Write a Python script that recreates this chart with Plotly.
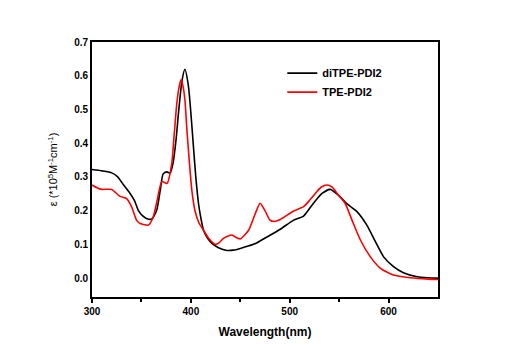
import plotly.graph_objects as go

wl_ditpe = [300, 310, 320, 326, 332, 338.5, 343, 347, 351, 355, 360.5, 365.5, 369, 372, 375.7, 379, 382, 385, 387.5, 391, 394, 397.6, 400, 402.6, 405, 407.7, 410, 412.8, 417, 421.3, 428, 436.5, 443, 450, 458, 467, 477, 490.5, 504, 514, 524, 532.7, 541, 549.5, 558, 568, 578, 586.7, 595, 605, 615, 629, 640, 650]
ab_ditpe = [0.322, 0.318, 0.312, 0.300, 0.276, 0.251, 0.230, 0.200, 0.185, 0.177, 0.175, 0.202, 0.260, 0.309, 0.315, 0.311, 0.341, 0.410, 0.490, 0.585, 0.619, 0.568, 0.490, 0.390, 0.300, 0.222, 0.180, 0.142, 0.118, 0.103, 0.090, 0.082, 0.083, 0.088, 0.095, 0.105, 0.122, 0.145, 0.172, 0.184, 0.222, 0.251, 0.263, 0.245, 0.220, 0.197, 0.157, 0.108, 0.063, 0.034, 0.016, 0.004, 0.001, 0.0]

wl_tpe = [300, 305, 310, 320, 328, 335, 340, 345, 348, 352, 357, 362, 366, 370.6, 376, 380.7, 383, 385.8, 388, 390, 392, 394, 396, 398.6, 401, 404, 408, 412.8, 418, 424.6, 429, 433, 441.5, 446, 450, 458.4, 465, 470, 475, 480, 484, 490.5, 504, 514, 520, 527.6, 532, 537.8, 543, 548, 556, 563, 571.5, 581.6, 591.8, 605, 622, 640, 650]
ab_tpe = [0.276, 0.268, 0.263, 0.263, 0.243, 0.236, 0.212, 0.172, 0.163, 0.159, 0.157, 0.182, 0.232, 0.286, 0.281, 0.340, 0.420, 0.518, 0.565, 0.588, 0.570, 0.528, 0.440, 0.340, 0.260, 0.202, 0.165, 0.142, 0.118, 0.100, 0.106, 0.118, 0.128, 0.120, 0.116, 0.142, 0.190, 0.222, 0.200, 0.172, 0.168, 0.174, 0.199, 0.212, 0.230, 0.257, 0.270, 0.276, 0.270, 0.251, 0.222, 0.172, 0.113, 0.063, 0.029, 0.009, 0.001, -0.003, -0.004]

x_ticks = [300, 400, 500, 600]
y_ticks = [0.0, 0.1, 0.2, 0.3, 0.4, 0.5, 0.6, 0.7]

fig = go.Figure()
fig.add_trace(go.Scatter(x=wl_ditpe, y=ab_ditpe, mode="lines", name="diTPE-PDI2",
                         line=dict(color="black", width=1.6, shape="spline", smoothing=0.6)))
fig.add_trace(go.Scatter(x=wl_tpe, y=ab_tpe, mode="lines", name="TPE-PDI2",
                         line=dict(color="#ff0000", width=1.6, shape="spline", smoothing=0.6)))

font_family = "Liberation Sans, Arial, sans-serif"
# page body has an 8px default margin, so margins are reduced accordingly
fig.update_layout(
    width=511, height=359,
    margin=dict(l=84, r=81, t=34, b=70, autoexpand=False),
    paper_bgcolor="white", plot_bgcolor="white",
    font=dict(family=font_family, color="black"),
    showlegend=True,
    legend=dict(x=0.55, y=0.935, xanchor="left", yanchor="top",
                bgcolor="rgba(0,0,0,0)", font=dict(size=11, family=font_family, weight="bold"),
                tracegroupgap=0, itemwidth=30),
    xaxis=dict(range=[300, 650], tickvals=x_ticks, ticktext=[str(v) for v in x_ticks],
               automargin=False,
               showgrid=False, zeroline=False, showline=True, linecolor="black", linewidth=1.8,
               mirror=True, ticks="outside", ticklen=4, tickwidth=1.5, tickcolor="black",
               minor=dict(tickvals=[350, 450, 550], ticks="outside", ticklen=3, tickwidth=1.5, tickcolor="black"),
               tickfont=dict(size=10, weight="bold"),
               title=dict(text="Wavelength(nm)", font=dict(size=12, weight="bold"), standoff=12)),
    yaxis=dict(range=[-0.056, 0.7], tickvals=y_ticks, ticktext=["%.1f" % v for v in y_ticks],
               automargin=False,
               showgrid=False, zeroline=False, showline=True, linecolor="black", linewidth=1.8,
               mirror=True, ticks="", tickfont=dict(size=10, weight="bold"),
               title=dict(text="ε (*10<sup>5</sup>M<sup>-1</sup>cm<sup>-1</sup>)", font=dict(size=11), standoff=14)),
)

fig.write_html("out.html")
